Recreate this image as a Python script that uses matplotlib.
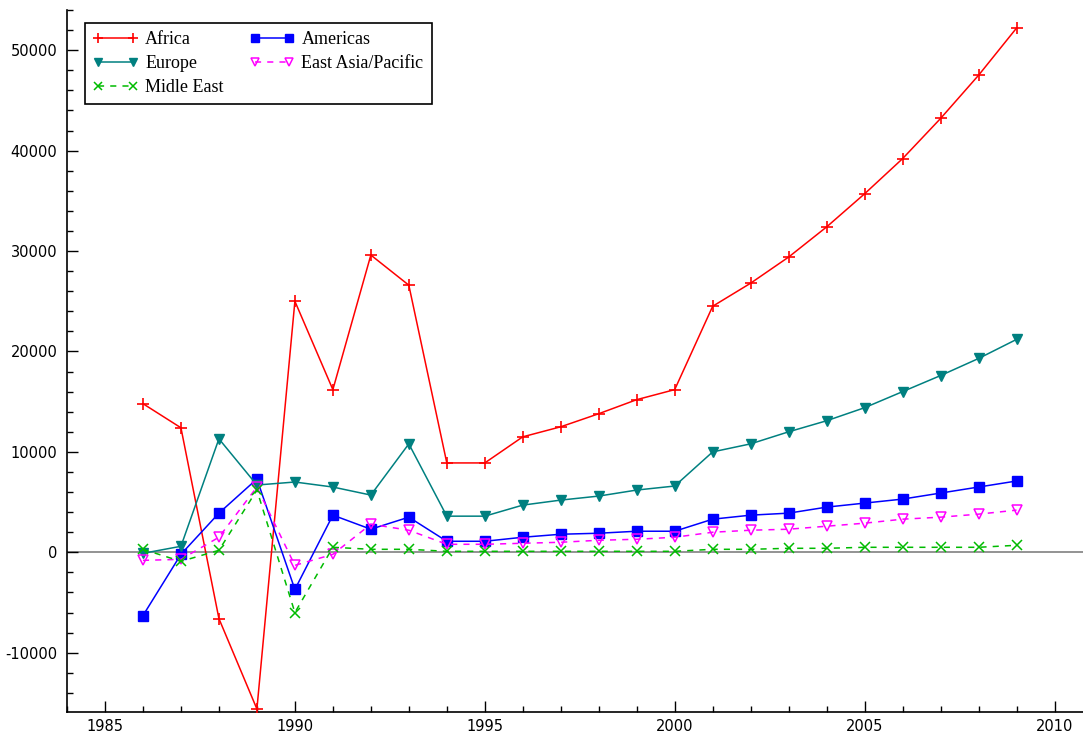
import matplotlib
matplotlib.use("Agg")
import matplotlib.pyplot as plt
from matplotlib.ticker import MultipleLocator

plt.rcParams["axes.unicode_minus"] = False

years = list(range(1986, 2010))
africa = [14800, 12400, -6600, -15600, 25000, 16200, 29600, 26600, 8900, 8900,
          11500, 12500, 13800, 15200, 16200, 24500, 26800, 29400, 32400, 35700,
          39200, 43200, 47500, 52200]
americas = [-6300, -200, 3900, 7300, -3700, 3700, 2300, 3500, 1100, 1100,
            1500, 1800, 1900, 2100, 2100, 3300, 3700, 3900, 4500, 4900,
            5300, 5900, 6500, 7100]
europe = [-100, 600, 11300, 6700, 7000, 6500, 5700, 10800, 3600, 3600,
          4700, 5200, 5600, 6200, 6600, 10000, 10800, 12000, 13100, 14400,
          16000, 17600, 19300, 21200]
east_asia = [-800, -700, 1500, 6500, -1300, -200, 2800, 2200, 800, 800,
             900, 1000, 1200, 1300, 1500, 2000, 2200, 2300, 2600, 2900,
             3300, 3500, 3800, 4200]
middle_east = [300, -900, 200, 6200, -6000, 500, 300, 300, 100, 100,
               100, 100, 100, 100, 100, 300, 300, 400, 400, 500,
               500, 500, 500, 700]

fig = plt.figure(figsize=(10.83, 7.33), dpi=100)
ax = fig.add_axes([67/1083, 21/733, 1 - 67/1083, (712-10)/733])

ax.axhline(0, color="#808080", lw=1.2, zorder=1)

ax.plot(years, africa, color="red", lw=1.1, marker="+", ms=8, mew=1.2, label="Africa", zorder=3)
ax.plot(years, americas, color="blue", lw=1.1, marker="s", ms=7, label="Americas", zorder=3)
ax.plot(years, europe, color="#008080", lw=1.1, marker="v", ms=7, label="Europe", zorder=3)
ax.plot(years, east_asia, color="magenta", lw=1.1, ls=(0, (4, 4)), marker="v", ms=7,
        mfc="none", mew=1.1, label="East Asia/Pacific", zorder=3)
ax.plot(years, middle_east, color="#00bb00", lw=1.1, ls=(0, (4, 4)), marker="x", ms=7,
        mew=1.1, label="Midle East", zorder=3)

ax.set_xlim(1984.0, 2010.75)
ax.set_ylim(-15900, 54000)

for s in ["top", "right"]:
    ax.spines[s].set_visible(False)
ax.spines["left"].set_linewidth(1.2)
ax.spines["bottom"].set_linewidth(1.2)

ax.xaxis.set_major_locator(MultipleLocator(5))
ax.xaxis.set_minor_locator(MultipleLocator(1))
ax.yaxis.set_major_locator(MultipleLocator(10000))
ax.yaxis.set_minor_locator(MultipleLocator(2000))
ax.tick_params(which="major", direction="in", length=8, width=1)
ax.tick_params(which="minor", direction="in", length=4, width=1)

tick_font = ["DejaVu Sans Condensed", "DejaVu Sans"]
for lab in ax.get_xticklabels() + ax.get_yticklabels():
    lab.set_family(tick_font)
    lab.set_fontsize(10.5)
ax.tick_params(axis="x", pad=5)
ax.tick_params(axis="y", pad=7)

handles, labels = ax.get_legend_handles_labels()
idx = [0, 2, 4, 1, 3]
leg = ax.legend([handles[i] for i in idx], [labels[i] for i in idx],
                ncol=2, loc="upper left", bbox_to_anchor=(0.014, 0.987),
                prop={"family": "Liberation Serif", "size": 13},
                frameon=True, fancybox=False, edgecolor="black", framealpha=1,
                numpoints=2, handlelength=2.5, columnspacing=1.4, labelspacing=0.4,
                borderpad=0.45, handletextpad=0.4, borderaxespad=0.2, markerscale=0.85)
leg.get_frame().set_linewidth(1.2)

fig.savefig("out.png", dpi=100)
